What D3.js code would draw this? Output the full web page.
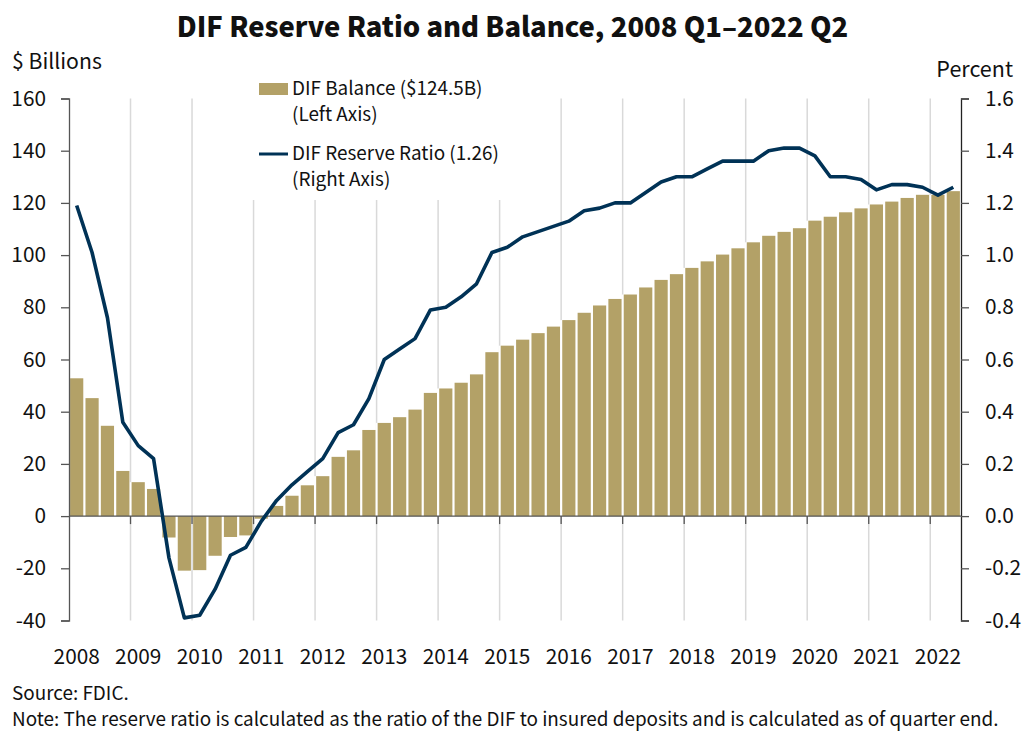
<!DOCTYPE html>
<html>
<head>
<meta charset="utf-8">
<title>DIF Reserve Ratio and Balance</title>
<script src="https://cdn.jsdelivr.net/npm/d3@7"></script>
<style>
  body { margin: 0; background: #fff; }
  svg { display: block; }
  text { font-family: "Noto Sans CJK JP", "Noto Sans", sans-serif; fill: #111; }
</style>
</head>
<body>
<div id="chart"></div>
<script>
var years = [2008, 2009, 2010, 2011, 2012, 2013, 2014, 2015, 2016, 2017, 2018, 2019, 2020, 2021, 2022];
var quarters = ['Q1', 'Q2', 'Q3', 'Q4'];
var balance = [52.8, 45.2, 34.6, 17.3, 13.0, 10.4, -8.2, -20.9,
  -20.7, -15.2, -8.0, -7.4, -1.0, 3.9, 7.8, 11.8,
  15.3, 22.7, 25.2, 33.0, 35.7, 37.9, 40.8, 47.2,
  48.9, 51.1, 54.3, 62.8, 65.3, 67.6, 70.1, 72.6,
  75.1, 77.9, 80.7, 83.2, 84.9, 87.6, 90.5, 92.7,
  95.1, 97.6, 100.2, 102.6, 104.9, 107.4, 108.9, 110.3,
  113.2, 114.7, 116.4, 117.9, 119.4, 120.5, 121.9, 123.1,
  123.1, 124.5];
var ratio = [1.19, 1.01, 0.76, 0.36, 0.27, 0.22, -0.16, -0.39,
  -0.38, -0.28, -0.15, -0.12, -0.02, 0.06, 0.12, 0.17,
  0.22, 0.32, 0.35, 0.45, 0.60, 0.64, 0.68, 0.79,
  0.80, 0.84, 0.89, 1.01, 1.03, 1.07, 1.09, 1.11,
  1.13, 1.17, 1.18, 1.20, 1.20, 1.24, 1.28, 1.30,
  1.30, 1.33, 1.36, 1.36, 1.36, 1.40, 1.41, 1.41,
  1.38, 1.30, 1.30, 1.29, 1.25, 1.27, 1.27, 1.26,
  1.23, 1.26];
var leftTicks = [-40, -20, 0, 20, 40, 60, 80, 100, 120, 140, 160];
var rightTicks = [-0.4, -0.2, 0, 0.2, 0.4, 0.6, 0.8, 1.0, 1.2, 1.4, 1.6];

// one label per quarter, e.g. 2008Q1
var periods = [];
years.forEach(function(y) {
  quarters.forEach(function(q) { periods.push(y + q); });
});
periods = periods.slice(0, balance.length);

var gold = '#b3a167', navy = '#003256', grid = '#d9d9d9', axisGray = '#555';
var plotLeft = 69, plotRight = 961, plotTop = 98.5, plotBottom = 620.5;
var barGap = 2.2;

var svg = d3.select('#chart').append('svg').attr('width', 1024).attr('height', 744);

var x = d3.scaleBand().domain(periods).range([plotLeft, plotRight]);
var yL = d3.scaleLinear().domain([-40, 160]).range([plotBottom, plotTop]);
var yR = d3.scaleLinear().domain([-0.4, 1.6]).range([plotBottom, plotTop]);

// year gridlines, the ones under the legend start lower down
var gridYears = years.slice(1);
svg.append('g').selectAll('line').data(gridYears).join('line')
  .attr('x1', function(d) { return x(d + 'Q1'); })
  .attr('x2', function(d) { return x(d + 'Q1'); })
  .attr('y1', function(d) { return (d >= 2011 && d <= 2015) ? 200 : plotTop; })
  .attr('y2', plotBottom)
  .attr('stroke', grid).attr('stroke-width', 1.5);

// white gaps between bars hide the gridlines
svg.append('g').selectAll('rect').data(gridYears).join('rect')
  .attr('x', function(d) { return x(d + 'Q1') - barGap / 2; })
  .attr('width', barGap)
  .attr('y', function(d) {
    return yL(Math.max(balance[periods.indexOf(d + 'Q1')], 0));
  })
  .attr('height', function(d) {
    return yL(0) - yL(Math.max(balance[periods.indexOf(d + 'Q1')], 0));
  })
  .attr('fill', '#fff');

// bars
svg.append('g').selectAll('rect').data(balance).join('rect')
  .attr('x', function(d, i) { return x(periods[i]) + barGap / 2; })
  .attr('width', x.bandwidth() - barGap)
  .attr('y', function(d) { return Math.min(yL(d), yL(0)); })
  .attr('height', function(d) { return Math.abs(yL(d) - yL(0)); })
  .attr('fill', gold);

// axes, plain hyphen for negatives as in the source chart
var axisL = d3.axisLeft(yL).tickValues(leftTicks).tickSize(8).tickPadding(15)
  .tickFormat(function(d) { return String(d); });
var gL = svg.append('g').attr('transform', 'translate(' + plotLeft + ',0)').call(axisL);
gL.selectAll('.domain').attr('stroke', axisGray).attr('stroke-width', 1.3);
gL.selectAll('.tick line').attr('stroke', axisGray).attr('stroke-width', 1.3);
gL.selectAll('text').attr('font-size', 20.8);

var axisR = d3.axisRight(yR).tickValues(rightTicks).tickSize(8).tickPadding(16)
  .tickFormat(function(d) { return d.toFixed(1); });
var gR = svg.append('g').attr('transform', 'translate(' + plotRight + ',0)').call(axisR);
gR.selectAll('.domain').attr('stroke', '#222').attr('stroke-width', 1.3);
gR.selectAll('.tick line').attr('stroke', axisGray).attr('stroke-width', 1.3);
gR.selectAll('text').attr('font-size', 20.8);

// zero line with a tick at each year
svg.append('line').attr('x1', plotLeft).attr('x2', plotRight)
  .attr('y1', yL(0)).attr('y2', yL(0))
  .attr('stroke', axisGray).attr('stroke-width', 1.3);
svg.append('g').selectAll('line').data(gridYears).join('line')
  .attr('x1', function(d) { return x(d + 'Q1'); })
  .attr('x2', function(d) { return x(d + 'Q1'); })
  .attr('y1', yL(0)).attr('y2', yL(0) + 8)
  .attr('stroke', axisGray).attr('stroke-width', 1.3);

// reserve ratio line
var line = d3.line()
  .x(function(d, i) { return x(periods[i]) + x.bandwidth() / 2; })
  .y(function(d) { return yR(d); });
svg.append('path').datum(ratio).attr('d', line)
  .attr('fill', 'none').attr('stroke', navy).attr('stroke-width', 3.6)
  .attr('stroke-linejoin', 'round');

// year labels sit under the first bar of each year
svg.append('g').selectAll('text').data(years).join('text')
  .attr('x', function(d) { return x(d + 'Q1') + x.bandwidth() / 2; })
  .attr('y', 664)
  .attr('text-anchor', 'middle').attr('font-size', 20.8)
  .text(function(d) { return d; });

// title and axis units
svg.append('text').attr('x', 512.5).attr('y', 37).attr('text-anchor', 'middle')
  .attr('font-size', 27.4).attr('font-weight', 900)
  .text('DIF Reserve Ratio and Balance, 2008 Q1\u20132022 Q2');
svg.append('text').attr('x', 12).attr('y', 69).attr('font-size', 21.2).text('$ Billions');
svg.append('text').attr('x', 1013).attr('y', 77).attr('text-anchor', 'end').attr('font-size', 21.5).text('Percent');

// legend
svg.append('rect').attr('x', 259).attr('y', 83).attr('width', 29).attr('height', 12).attr('fill', gold);
svg.append('line').attr('x1', 259).attr('x2', 288).attr('y1', 154).attr('y2', 154)
  .attr('stroke', navy).attr('stroke-width', 3);
[['DIF Balance ($124.5B)', 95], ['(Left Axis)', 121], ['DIF Reserve Ratio (1.26)', 160], ['(Right Axis)', 186]]
  .forEach(function(t) {
    svg.append('text').attr('x', 292).attr('y', t[1]).attr('font-size', 18.9).text(t[0]);
  });

// source and note
svg.append('text').attr('x', 12).attr('y', 700).attr('font-size', 18.9).text('Source: FDIC.');
svg.append('text').attr('x', 12).attr('y', 726).attr('font-size', 18.9)
  .text('Note: The reserve ratio is calculated as the ratio of the DIF to insured deposits and is calculated as of quarter end.');
</script>
</body>
</html>
